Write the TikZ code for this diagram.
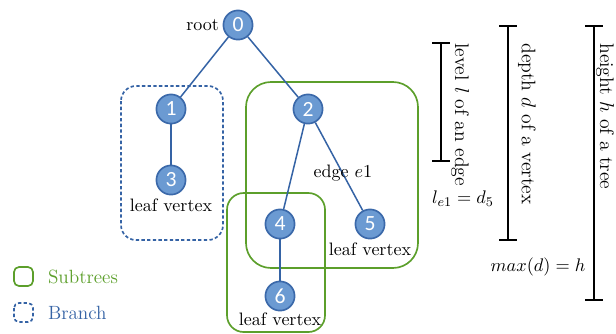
\documentclass[tikz,border=0pt]{standalone}
\usepackage{fontspec}
\usetikzlibrary{positioning}
\newfontfamily\numfont{Carlito}
\definecolor{vfill}{HTML}{6B9AD2}
\definecolor{vborder}{HTML}{3B69AA}
\definecolor{eblue}{HTML}{3563A5}
\definecolor{sgreen}{HTML}{5C9F2B}
\begin{document}
\begin{tikzpicture}[x=0.6pt,y=-0.6pt,
  every node/.style={font=\fontsize{10.8}{13}\selectfont},
  vtx/.style={circle, draw=vborder, fill=vfill, line width=1pt, minimum size=17.5pt, inner sep=0pt, text=white, font=\numfont\fontsize{13}{15}\selectfont},
  tedge/.style={draw=eblue, line width=0.9pt},
  subtree/.style={draw=sgreen, line width=1pt},
  branch/.style={draw=eblue, line width=1pt, dash pattern=on 2pt off 1.4pt},
  lbl/.style={inner sep=1pt},
  bar/.style={line width=1.2pt},
  vtext/.style={rotate=-90, anchor=west, inner sep=0pt, font=\fontsize{11.8}{14}\selectfont},
  legtext/.style={inner sep=1pt, anchor=west, font=\fontsize{11.5}{14}\selectfont}]
\useasboundingbox (0,0) rectangle (616,333);
% groups
\draw[branch, rounded corners=9pt] (121,86) rectangle (223,240);
\draw[subtree, rounded corners=15pt] (246,82) rectangle (418,268);
\draw[subtree, rounded corners=10pt] (227,193) rectangle (325,332);
% vertices
\node[vtx] (v0) at (238,25) {0};
\node[vtx] (v1) at (171,109) {1};
\node[vtx] (v2) at (308,109) {2};
\node[vtx] (v3) at (171,180) {3};
\node[vtx] (v4) at (280,224) {4};
\node[vtx] (v5) at (370,224) {5};
\node[vtx] (v6) at (280,296) {6};
% edges
\draw[tedge] (v0) -- (v1);
\draw[tedge] (v0) -- (v2);
\draw[tedge] (v1) -- (v3);
\draw[tedge] (v2) -- (v4);
\draw[tedge] (v2) -- (v5);
\draw[tedge] (v4) -- (v6);
% labels
\node[lbl, left=1pt of v0] (lroot) {root};
\node[lbl] (l3) at (171,205) {leaf vertex};
\node[lbl] (l5) at (370,249) {leaf vertex};
\node[lbl] (l6) at (280,319) {leaf vertex};
\node[lbl] (le) at (343,173) {edge $e1$};
% bars
\coordinate (b1t) at (441,43); \coordinate (b1b) at (441,161);
\coordinate (b2t) at (508,26); \coordinate (b2b) at (508,240);
\coordinate (b3t) at (594,26); \coordinate (b3b) at (594,300);
\draw[bar] (b1t) -- (b1b);
\draw[bar] (b1t) ++(-9,0) -- ++(18,0);
\draw[bar] (b1b) ++(-9,0) -- ++(18,0);
\draw[bar] (b2t) -- (b2b);
\draw[bar] (b2t) ++(-9,0) -- ++(18,0);
\draw[bar] (b2b) ++(-9,0) -- ++(18,0);
\draw[bar] (b3t) -- (b3b);
\draw[bar] (b3t) ++(-9,0) -- ++(18,0);
\draw[bar] (b3b) ++(-9,0) -- ++(18,0);
\node[vtext] (t1) at (460,43) {level $l$ of an edge};
\node[vtext] (t2) at (527,43) {depth $d$ of a vertex};
\node[vtext] (t3) at (605,43) {height $h$ of a tree};
\node[lbl] (m1) at (463,199) {$l_{e1} = d_5$};
\node[lbl] (m2) at (538,267) {$max(d) = h$};
% legend
\draw[subtree, rounded corners=3pt] (14,267) rectangle (33,286);
\draw[branch, rounded corners=3pt] (14,303) rectangle (33,322);
\node[legtext, text=sgreen] (lg1) at (46,277) {Subtrees};
\node[legtext, text=eblue] (lg2) at (46,313) {Branch};
\end{tikzpicture}
\end{document}
